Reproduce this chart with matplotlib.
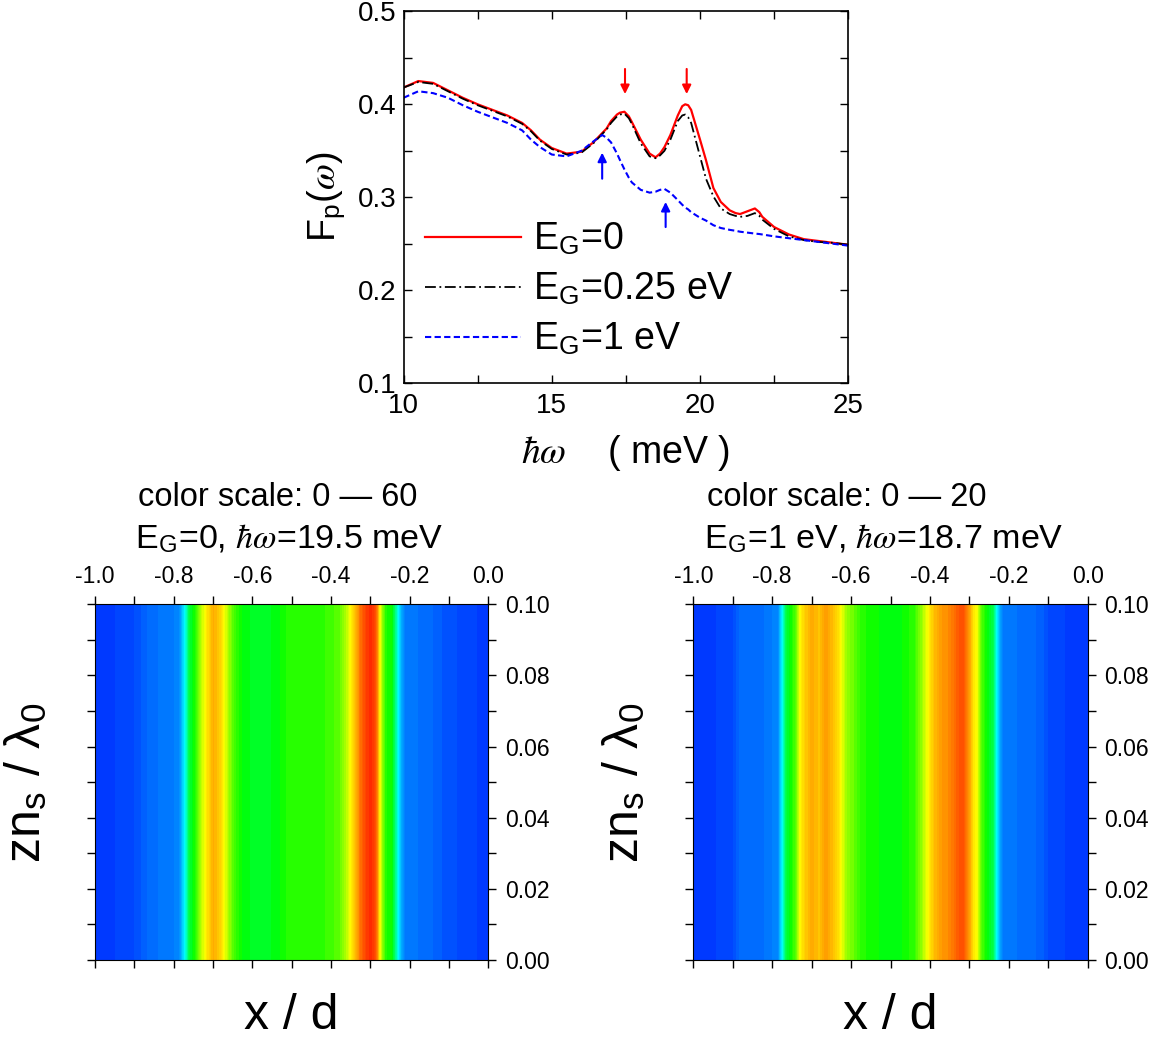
import matplotlib
matplotlib.use('Agg')
import matplotlib.pyplot as plt
import numpy as np
from matplotlib.colors import LinearSegmentedColormap
from matplotlib.ticker import MultipleLocator, FormatStrFormatter

plt.rcParams['font.family'] = ['Liberation Sans', 'DejaVu Sans']
plt.rcParams['mathtext.fontset'] = 'stix'

W, H = 1163, 1044

# ---- top panel: F_p(omega) spectra ----
HW = [10.0, 10.5, 11.0, 11.5, 12.0, 12.5, 13.0, 13.5, 14.0, 14.3, 14.6, 15.0,
      15.5, 16.0, 16.4, 16.7, 16.85, 17.0, 17.2, 17.3, 17.45, 17.6, 17.7,
      18.0, 18.3, 18.5, 18.65, 18.8, 19.0, 19.25, 19.4, 19.5, 19.6, 19.7,
      20.0, 20.2, 20.45, 20.7, 21.0, 21.2, 21.35, 21.6, 21.85, 22.0, 22.1,
      22.5, 23.0, 23.5, 24.0, 24.5, 25.0]
FP_EG0 = [0.418, 0.425, 0.423, 0.415, 0.407, 0.400, 0.394, 0.388, 0.380,
          0.372, 0.362, 0.353, 0.347, 0.349, 0.359, 0.369, 0.374, 0.382,
          0.389, 0.391, 0.392, 0.387, 0.381, 0.362, 0.347, 0.343, 0.347,
          0.354, 0.367, 0.388, 0.398, 0.400, 0.399, 0.394, 0.362, 0.340,
          0.310, 0.295, 0.286, 0.283, 0.282, 0.285, 0.288, 0.284, 0.279,
          0.268, 0.260, 0.255, 0.253, 0.251, 0.249]
FP_EG025 = [0.418, 0.424, 0.422, 0.414, 0.406, 0.399, 0.393, 0.387, 0.379,
            0.371, 0.361, 0.352, 0.346, 0.348, 0.358, 0.368, 0.373, 0.380,
            0.387, 0.389, 0.390, 0.385, 0.379, 0.358, 0.344, 0.342, 0.345,
            0.350, 0.362, 0.382, 0.388, 0.389, 0.386, 0.380, 0.344, 0.320,
            0.301, 0.288, 0.282, 0.280, 0.279, 0.280, 0.283, 0.280, 0.276,
            0.266, 0.258, 0.254, 0.252, 0.251, 0.249]
FP_EG1 = [0.407, 0.414, 0.412, 0.407, 0.399, 0.392, 0.386, 0.380, 0.372,
          0.362, 0.354, 0.346, 0.344, 0.350, 0.360, 0.367, 0.364, 0.359,
          0.347, 0.340, 0.330, 0.321, 0.316, 0.308, 0.305, 0.306, 0.308,
          0.309, 0.305, 0.297, 0.292, 0.289, 0.287, 0.284, 0.278, 0.275,
          0.270, 0.267, 0.265, 0.264, 0.263, 0.262, 0.261, 0.2605, 0.260,
          0.258, 0.256, 0.254, 0.252, 0.250, 0.248]
LABELS = ['E$_\\mathregular{G}$=0', 'E$_\\mathregular{G}$=0.25 eV',
          'E$_\\mathregular{G}$=1 eV']

# arrows marking the resonances: (x, y_tail, y_head)
RED_ARROWS = [(17.47, 0.438, 0.411), (19.55, 0.438, 0.411)]
BLUE_ARROWS = [(16.70, 0.320, 0.348), (18.84, 0.268, 0.295)]

# ---- bottom panels: field maps, profiles across x / d ----
Z = [0.0, 0.10]
X_L = [-1.00, -0.95, -0.90, -0.86, -0.82, -0.79, -0.785, -0.772, -0.76,
       -0.745, -0.73, -0.72, -0.71, -0.70, -0.69, -0.68, -0.67, -0.66, -0.64,
       -0.62, -0.58, -0.54, -0.50, -0.46, -0.42, -0.38, -0.36, -0.35, -0.34,
       -0.325, -0.31, -0.30, -0.29, -0.283, -0.277, -0.27, -0.26, -0.245,
       -0.235, -0.228, -0.22, -0.21, -0.18, -0.14, -0.11, -0.05, 0.00]
FIELD_L = [4.5, 5.0, 6.0, 8.4, 9.6, 10.2, 11.4, 19.8, 27.6, 31.2, 37.2, 40.2,
           43.2, 46.2, 45.0, 43.2, 39.6, 36.0, 31.8, 29.4, 28.2, 29.4, 31.8,
           31.2, 31.8, 33.6, 37.2, 40.2, 45.0, 51.0, 55.2, 56.4, 55.2, 51.0,
           42.0, 36.0, 31.2, 30.0, 24.0, 19.8, 13.2, 9.6, 9.0, 8.0, 6.6, 5.4,
           4.5]
X_R = [-1.00, -0.95, -0.90, -0.88, -0.82, -0.785, -0.775, -0.765, -0.75,
       -0.74, -0.73, -0.72, -0.70, -0.68, -0.665, -0.65, -0.635, -0.625,
       -0.61, -0.59, -0.57, -0.53, -0.47, -0.44, -0.42, -0.405, -0.39, -0.37,
       -0.35, -0.33, -0.315, -0.30, -0.29, -0.28, -0.27, -0.255, -0.24,
       -0.232, -0.225, -0.215, -0.18, -0.12, -0.10, -0.05, 0.00]
FIELD_R = [1.4, 1.6, 2.0, 2.8, 3.0, 3.6, 6.6, 9.0, 10.4, 11.2, 13.2, 14.4,
           15.6, 14.8, 16.0, 15.2, 14.4, 13.2, 12.0, 11.2, 10.4, 10.0, 10.0,
           10.6, 12.0, 13.4, 15.0, 16.0, 16.4, 17.6, 18.0, 16.0, 14.0, 13.2,
           11.2, 10.0, 9.0, 7.2, 5.0, 3.2, 3.0, 2.6, 2.0, 1.6, 1.4]
SCALE_L, SCALE_R = 60, 20

RAINBOW = LinearSegmentedColormap.from_list(
    'rainbow_origin', ['#0000ff', '#0080ff', '#00ffff', '#00ff00',
                       '#ffff00', '#ff8000', '#ff0000'])


def px_rect(left, top, right, bottom):
  return [left / W, 1 - bottom / H, (right - left) / W, (bottom - top) / H]


def top_panel(fig):
  ax = fig.add_axes(px_rect(403.5, 11.3, 848.3, 383.3))
  ax.plot(HW, FP_EG0, color='red', lw=1.6, label=LABELS[0])
  ax.plot(HW, FP_EG025, color='black', lw=1.3, ls=(0, (6, 2, 1, 2)),
          label=LABELS[1])
  ax.plot(HW, FP_EG1, color='blue', lw=1.5, ls=(0, (3, 1.6)),
          label=LABELS[2])
  for arrows, col in [(RED_ARROWS, 'red'), (BLUE_ARROWS, 'blue')]:
    for x, y0, y1 in arrows:
      ax.annotate('', xy=(x, y1), xytext=(x, y0),
                  arrowprops=dict(arrowstyle='-|>', color=col, lw=1.5,
                                  mutation_scale=13, shrinkA=0, shrinkB=0))
  ax.set_xlim(10, 25)
  ax.set_ylim(0.1, 0.5)
  ax.xaxis.set_major_locator(MultipleLocator(5))
  ax.xaxis.set_minor_locator(MultipleLocator(2.5))
  ax.yaxis.set_major_locator(MultipleLocator(0.1))
  ax.yaxis.set_minor_locator(MultipleLocator(0.05))
  ax.tick_params(which='both', direction='in', top=True, right=True,
                 length=6, width=1, labelsize=20)
  ax.tick_params(axis='x', pad=7)
  ax.tick_params(axis='y', pad=5)
  ax.set_xlabel('$\\hbar\\omega$    ( meV )', fontsize=27, labelpad=10)
  ax.set_ylabel('F$_\\mathregular{p}$($\\omega$)', fontsize=27, labelpad=8)
  ax.legend(loc='lower left', bbox_to_anchor=(-0.01, -0.002), frameon=False,
            fontsize=27, handlelength=2.55, handletextpad=0.32,
            labelspacing=0.37, borderaxespad=0.3)
  for sp in ax.spines.values():
    sp.set_linewidth(1.2)


def field_panel(fig, rect, xs, field, scale, title1, title2, tx):
  ax = fig.add_axes(rect)
  zz = np.array(Z)
  grid = np.tile(np.array(field), (len(zz), 1))
  ax.contourf(np.array(xs), zz, grid, levels=np.linspace(0, scale, 61),
              cmap=RAINBOW, vmin=0, vmax=scale)
  ax.set_xlim(-1.0, 0.0)
  ax.set_ylim(0.0, 0.10)
  ax.xaxis.set_major_locator(MultipleLocator(0.2))
  ax.xaxis.set_minor_locator(MultipleLocator(0.1))
  ax.yaxis.set_major_locator(MultipleLocator(0.02))
  ax.yaxis.set_minor_locator(MultipleLocator(0.01))
  ax.xaxis.set_major_formatter(FormatStrFormatter('%.1f'))
  ax.yaxis.set_major_formatter(FormatStrFormatter('%.2f'))
  ax.tick_params(which='both', direction='out', top=True, bottom=True,
                 left=True, right=True, labeltop=True, labelbottom=False,
                 labelleft=False, labelright=True, length=6, width=1,
                 labelsize=16.5, pad=6)
  ax.set_xlabel('x / d', fontsize=36, labelpad=18)
  ax.set_ylabel('zn$_\\mathregular{s}$ / λ$_\\mathregular{0}$', fontsize=36,
                labelpad=26)
  fig.text(tx / W, 1 - 506 / H, title1, fontsize=23.5, va='baseline')
  fig.text((tx - 3) / W, 1 - 548 / H, title2, fontsize=24.5, va='baseline')


def main():
  fig = plt.figure(figsize=(W / 100, H / 100), dpi=100)
  top_panel(fig)
  field_panel(fig, px_rect(95, 604.3, 488.3, 960), X_L, FIELD_L, SCALE_L,
              'color scale: 0 — 60',
              'E$_\\mathregular{G}$=0, $\\hbar\\omega$=19.5 meV', 138)
  field_panel(fig, px_rect(693.3, 604.3, 1087.7, 960), X_R, FIELD_R, SCALE_R,
              'color scale: 0 — 20',
              'E$_\\mathregular{G}$=1 eV, $\\hbar\\omega$=18.7 meV', 707)
  fig.savefig('out.png', dpi=100)


if __name__ == '__main__':
  main()
